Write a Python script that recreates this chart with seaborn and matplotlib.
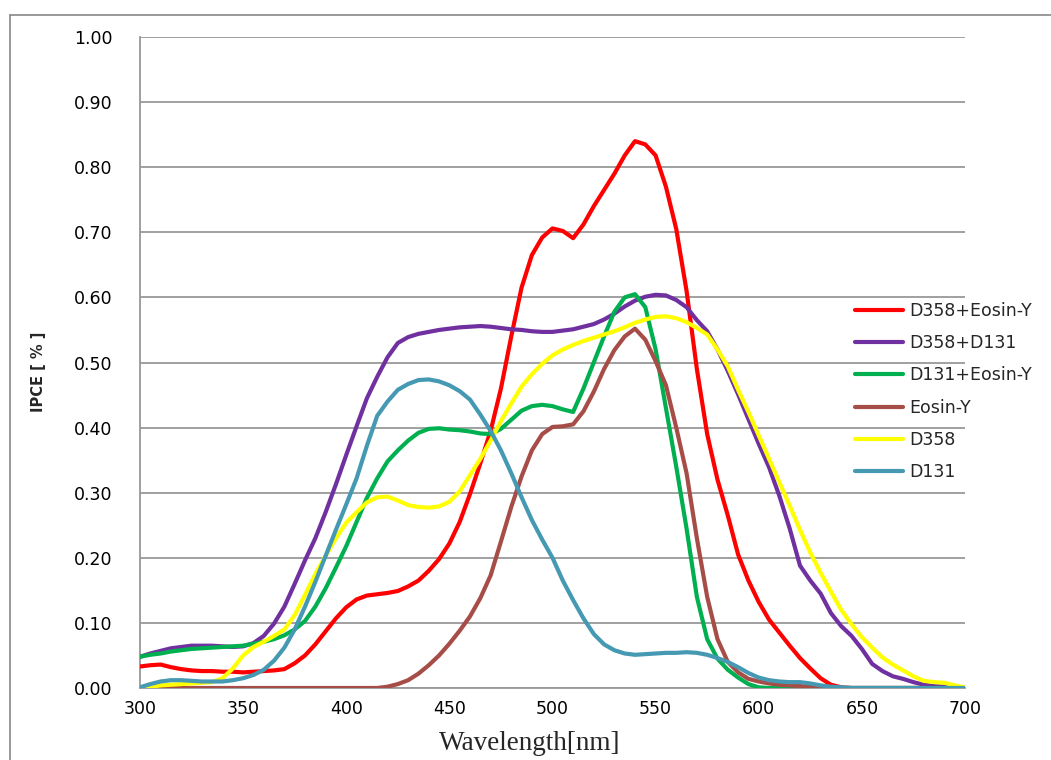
import numpy as np
import pandas as pd
import matplotlib
matplotlib.use("Agg")
import matplotlib.pyplot as plt
import seaborn as sns
from matplotlib.lines import Line2D

wavelength = list(range(300, 705, 5))

d358_eosin = [0.033, 0.035, 0.036, 0.032, 0.029, 0.027, 0.026, 0.026, 0.025, 0.025,
              0.024, 0.025, 0.026, 0.027, 0.029, 0.038, 0.050, 0.067, 0.087, 0.107,
              0.124, 0.136, 0.142, 0.144, 0.146, 0.149, 0.156, 0.165, 0.180, 0.198,
              0.222, 0.255, 0.298, 0.345, 0.395, 0.460, 0.540, 0.615, 0.665, 0.692,
              0.706, 0.702, 0.691, 0.712, 0.740, 0.765, 0.790, 0.818, 0.840, 0.835,
              0.818, 0.770, 0.705, 0.610, 0.490, 0.390, 0.320, 0.265, 0.205, 0.165,
              0.132, 0.105, 0.085, 0.065, 0.046, 0.030, 0.015, 0.005, 0.001, 0.0,
              0.0, 0.0, 0.0, 0.0, 0.0, 0.0, 0.0, 0.0, 0.0, 0.0, 0.0]

d358_d131 = [0.048, 0.053, 0.057, 0.061, 0.063, 0.065, 0.065, 0.065, 0.064, 0.063,
             0.064, 0.069, 0.080, 0.099, 0.125, 0.160, 0.196, 0.230, 0.270, 0.313,
             0.358, 0.402, 0.445, 0.478, 0.508, 0.530, 0.539, 0.544, 0.547, 0.550,
             0.552, 0.554, 0.555, 0.556, 0.555, 0.553, 0.551, 0.550, 0.548, 0.547,
             0.547, 0.549, 0.551, 0.555, 0.559, 0.566, 0.575, 0.586, 0.595, 0.601,
             0.604, 0.603, 0.596, 0.585, 0.565, 0.548, 0.520, 0.487, 0.451, 0.413,
             0.375, 0.339, 0.295, 0.245, 0.188, 0.165, 0.145, 0.115, 0.095, 0.080,
             0.060, 0.037, 0.026, 0.018, 0.014, 0.009, 0.005, 0.003, 0.002, 0.001, 0.0]

d131_eosin = [0.048, 0.051, 0.053, 0.056, 0.058, 0.060, 0.061, 0.062, 0.063, 0.064,
              0.065, 0.068, 0.071, 0.075, 0.081, 0.090, 0.103, 0.125, 0.153, 0.185,
              0.218, 0.255, 0.292, 0.322, 0.348, 0.365, 0.380, 0.392, 0.398, 0.399,
              0.397, 0.396, 0.394, 0.391, 0.390, 0.398, 0.412, 0.426, 0.433, 0.435,
              0.433, 0.428, 0.424, 0.460, 0.500, 0.540, 0.578, 0.600, 0.605, 0.585,
              0.520, 0.430, 0.340, 0.245, 0.140, 0.075, 0.045, 0.028, 0.016, 0.006,
              0.001, 0.0, 0.0, 0.0, 0.0, 0.0, 0.0, 0.0, 0.0, 0.0,
              0.0, 0.0, 0.0, 0.0, 0.0, 0.0, 0.0, 0.0, 0.0, 0.0, 0.0]

eosin_y = [0.0, 0.0, 0.0, 0.0, 0.0, 0.0, 0.0, 0.0, 0.0, 0.0,
           0.0, 0.0, 0.0, 0.0, 0.0, 0.0, 0.0, 0.0, 0.0, 0.0,
           0.0, 0.0, 0.0, 0.0, 0.002, 0.006, 0.012, 0.022, 0.035, 0.050,
           0.068, 0.088, 0.110, 0.138, 0.173, 0.225, 0.278, 0.325, 0.365, 0.390,
           0.401, 0.402, 0.405, 0.425, 0.455, 0.490, 0.519, 0.540, 0.552, 0.535,
           0.502, 0.465, 0.400, 0.330, 0.230, 0.140, 0.075, 0.040, 0.024, 0.014,
           0.010, 0.007, 0.005, 0.004, 0.003, 0.002, 0.001, 0.0, 0.0, 0.0,
           0.0, 0.0, 0.0, 0.0, 0.0, 0.0, 0.0, 0.0, 0.0, 0.0, 0.0]

d358 = [0.000, 0.002, 0.004, 0.005, 0.006, 0.007, 0.008, 0.009, 0.015, 0.030,
        0.050, 0.063, 0.071, 0.080, 0.090, 0.112, 0.143, 0.175, 0.203, 0.230,
        0.254, 0.270, 0.285, 0.293, 0.294, 0.288, 0.281, 0.278, 0.277, 0.279,
        0.286, 0.302, 0.327, 0.352, 0.380, 0.410, 0.437, 0.463, 0.482, 0.498,
        0.511, 0.520, 0.527, 0.533, 0.538, 0.543, 0.548, 0.554, 0.561, 0.566,
        0.570, 0.571, 0.568, 0.562, 0.553, 0.543, 0.520, 0.494, 0.458, 0.424,
        0.388, 0.352, 0.316, 0.280, 0.243, 0.208, 0.177, 0.148, 0.120, 0.098,
        0.078, 0.062, 0.047, 0.036, 0.027, 0.018, 0.011, 0.009, 0.008, 0.004, 0.001]

d131 = [0.001, 0.006, 0.010, 0.012, 0.012, 0.011, 0.010, 0.010, 0.010, 0.012,
        0.015, 0.020, 0.028, 0.042, 0.062, 0.090, 0.125, 0.163, 0.203, 0.243,
        0.282, 0.322, 0.372, 0.418, 0.440, 0.458, 0.467, 0.473, 0.474, 0.471,
        0.465, 0.456, 0.443, 0.420, 0.395, 0.365, 0.330, 0.293, 0.258, 0.228,
        0.200, 0.165, 0.135, 0.107, 0.083, 0.067, 0.058, 0.053, 0.051, 0.052,
        0.053, 0.054, 0.054, 0.055, 0.054, 0.051, 0.046, 0.040, 0.032, 0.023,
        0.016, 0.012, 0.010, 0.009, 0.009, 0.007, 0.004, 0.002, 0.001, 0.0,
        0.0, 0.0, 0.0, 0.0, 0.0, 0.0, 0.0, 0.0, 0.0, 0.0, 0.0]

series_names = ["D358+Eosin-Y", "D358+D131", "D131+Eosin-Y", "Eosin-Y", "D358", "D131"]
series_values = [d358_eosin, d358_d131, d131_eosin, eosin_y, d358, d131]
colors = ["#FF0000", "#7030A0", "#00B050", "#A64D48", "#FFFF00", "#4599B2"]

x_ticks = [300, 350, 400, 450, 500, 550, 600, 650, 700]
y_ticks = [0.0, 0.1, 0.2, 0.3, 0.4, 0.5, 0.6, 0.7, 0.8, 0.9, 1.0]

rows = []
for name, vals in zip(series_names, series_values):
    for w, v in zip(wavelength, vals):
        rows.append({"Wavelength": w, "IPCE": v, "Series": name})
df = pd.DataFrame(rows)

sns.set_style("white")
plt.rcParams['font.family'] = ['DejaVu Sans']

fig = plt.figure(figsize=(10.51, 7.60), dpi=100)
ax = fig.add_axes([140/1051, 72/760, 825/1051, 651/760])

sns.lineplot(data=df, x="Wavelength", y="IPCE", hue="Series",
             hue_order=series_names, palette=colors, linewidth=3.0,
             ax=ax, legend=False, zorder=3)
for ln in ax.lines:
    ln.set_solid_joinstyle("round")
    ln.set_solid_capstyle("round")

ax.set_xlim(300, 700)
ax.set_ylim(0, 1.0)
ax.set_xticks(x_ticks)
ax.set_xticklabels([str(t) for t in x_ticks], fontsize=12.5)
ax.set_yticks(y_ticks)
ax.set_yticklabels([f"{t:.2f}" for t in y_ticks], fontsize=12.5)
ax.grid(axis="y", color="#999999", linewidth=1.3, zorder=0)
ax.grid(axis="x", visible=False)
for s in ["top", "right"]:
    ax.spines[s].set_visible(False)
for s in ["left", "bottom"]:
    ax.spines[s].set_color("#999999")
    ax.spines[s].set_linewidth(1.3)
ax.tick_params(axis="both", which="both", direction="out", length=4,
               color="#999999", width=1.3, pad=5, labelcolor="black")
ax.tick_params(axis="y", pad=16)

ax.set_xlabel("Wavelength[nm]", family=["Liberation Serif", "DejaVu Serif"],
              fontsize=19.5)
ax.xaxis.set_label_coords((530 - 140) / 825, -(731 - 688) / 651)
ax.set_ylabel("IPCE [ % ]", family=["Liberation Sans Narrow", "DejaVu Sans"],
              fontsize=10.5, fontweight="bold")
ax.yaxis.set_label_coords((46 - 140) / 825, 0.485)

handles = [Line2D([0], [0], color=c, linewidth=3.0) for c in colors]
leg = fig.legend(handles, series_names, loc="upper left",
                 bbox_to_anchor=(855/1051, 1 - 302/760), frameon=False,
                 fontsize=12.5, handlelength=2.75, handletextpad=0.35,
                 labelspacing=0.82, borderaxespad=0, borderpad=0)

fig.add_artist(Line2D([10/1051, 1.0], [1 - 15/760, 1 - 15/760],
                      color="#888888", linewidth=1.2))
fig.add_artist(Line2D([10/1051, 10/1051], [0, 1 - 15/760],
                      color="#888888", linewidth=1.2))

fig.savefig("out.png", dpi=100)
